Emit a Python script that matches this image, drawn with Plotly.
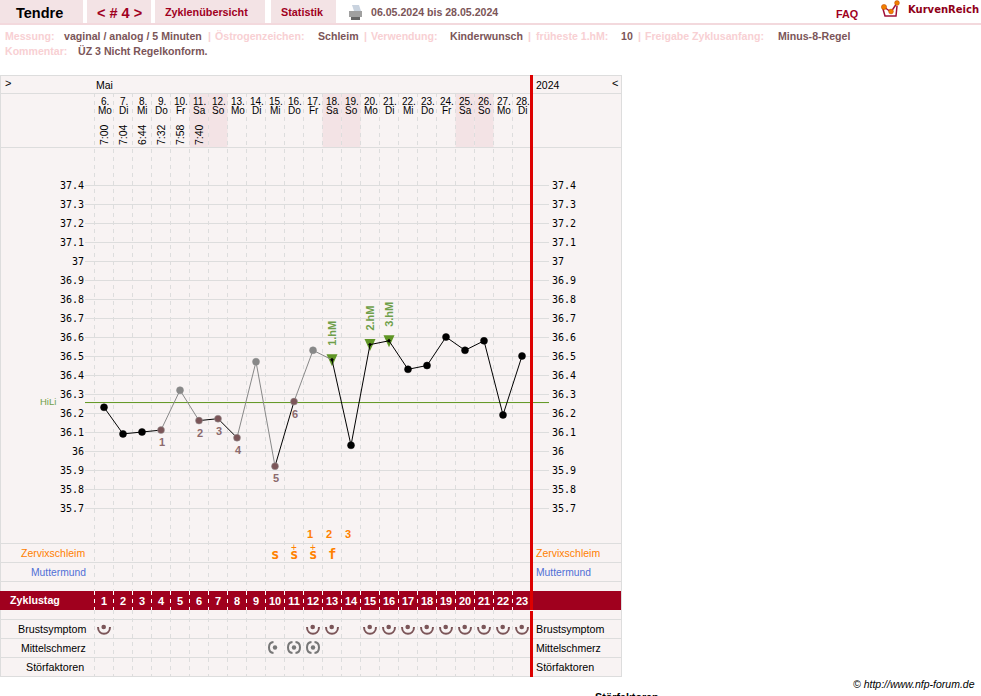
import plotly.graph_objects as go

# ---- data ----
cycle_days = list(range(1, 24))
dates = ["6.","7.","8.","9.","10.","11.","12.","13.","14.","15.","16.","17.","18.","19.","20.","21.","22.","23.","24.","25.","26.","27.","28."]
weekdays = ["Mo","Di","Mi","Do","Fr","Sa","So","Mo","Di","Mi","Do","Fr","Sa","So","Mo","Di","Mi","Do","Fr","Sa","So","Mo","Di"]
times = ["7:00","7:04","6:44","7:32","7:58","7:40"]
temps = [36.23,36.09,36.10,36.11,36.32,36.16,36.17,36.07,36.47,35.92,36.26,36.53,36.48,36.03,36.56,36.58,36.43,36.45,36.60,36.53,36.58,36.19,36.50]
point_kind = ["k","k","k","b","g","b","b","b","g","b","b","g","h","k","h","h","k","k","k","k","k","k","k"]
segment_kind = ["k","k","k","g","g","k","k","g","g","k","g","g","k","k","k","k","k","k","k","k","k","k"]
coverline_days = [4,6,7,8,10,11]
coverline_labels = ["1","2","3","4","5","6"]
hm_days = [13,15,16]
hm_labels = ["1.hM","2.hM","3.hM"]
hili = 36.255
weekend_days = [6,7,13,14,20,21]
temp_ticks = [37.4,37.3,37.2,37.1,37.0,36.9,36.8,36.7,36.6,36.5,36.4,36.3,36.2,36.1,36.0,35.9,35.8,35.7]
temp_ticktext = ["37.4","37.3","37.2","37.1","37","36.9","36.8","36.7","36.6","36.5","36.4","36.3","36.2","36.1","36","35.9","35.8","35.7"]
slime_days = [10,11,12,13]
slime_marks = ["s","s","s","f"]
slime_plus_days = [11,12]
peak_days = [12,13,14]
peak_labels = ["1","2","3"]
breast_days = [1,12,13,15,16,17,18,19,20,21,22,23]
pain_left_days = [10,11,12]
pain_right_days = [11,12]

# ---- colours ----
PINK = "#f3e3e5"; PANEL = "#f8f3f3"; LINE = "#dddddd"; CRIMSON = "#a0001e"; BROWN = "#7b5558"
LIGHT = "#f8d0d3"; ORANGE = "#ff8000"; BLUE = "#4f6fd6"; RED = "#dd0000"; GREEN = "#5f9520"
HM = "#5f9525"; HMTXT = "#6f9f4a"; GRAY = "#888888"; PAIN = "#777777"
SANS = "Liberation Sans"; MONO = "DejaVu Sans Mono"

# ---- pixel layout of the plot area ----
W, H = 981, 696
L, R, T, B = 85, 549, 148, 543
def px(x): return (x - L) / (R - L)
def py(y): return (B - y) / (B - T)
x_range = [0, (R - L) / 19]
y_range = [37.4 - (B - 185) / 190, 37.4 + (185 - T) / 190]

shapes, annos = [], []
def rect(x0, y0, x1, y1, c, layer="below"):
    shapes.append(dict(type="rect", xref="paper", yref="paper", x0=px(x0), x1=px(x1), y0=py(y0), y1=py(y1),
                       fillcolor=c, line_width=0, layer=layer))
def hline(y, c=LINE, x0=0, x1=622):
    rect(x0, y, x1, y + 1, c)
def text(x, y, s, size=10.6, color="black", bold=False, anchor="left", family=SANS, **kw):
    x = x - 1 if anchor == "left" else x + 1
    annos.append(dict(xref="paper", yref="paper", x=px(x), y=py(y), text=s, showarrow=False, xanchor=anchor,
                      yanchor="middle", borderpad=0, font=dict(family=family, size=size, color=color,
                      weight=700 if bold else 400, **kw)))
def poly(coords, fill=None, line=None, w=1.5, layer="above"):
    p = "M " + " L ".join(f"{px(a)} {py(b)}" for a, b in coords)
    d = dict(type="path", xref="paper", yref="paper", layer=layer)
    if fill:
        d.update(path=p + " Z", fillcolor=fill, line_width=0)
    else:
        d.update(path=p, line=dict(color=line, width=w))
    shapes.append(d)

# ---- page header ----
for a, b in [(0,83),(87,151),(155,265),(271,336)]:
    rect(a, 0, b, 23, PINK)
rect(0, 23, W, 25, "#f3d9dd")
text(16, 13, "Tendre", 14.5, "black", True)
text(97, 13, "&lt; # 4 &gt;", 14.5, CRIMSON, True)
text(165, 12, "Zyklenübersicht", 10.8, CRIMSON, True)
text(281, 12, "Statistik", 10.8, CRIMSON, True)
text(371, 12, "06.05.2024 bis 28.05.2024", 10.6, BROWN, True)
text(836, 14, "FAQ", 10.8, CRIMSON, True)
text(908, 10, "KurvenReich", 10, "#8f0018", True, family="DejaVu Sans")
# printer icon
poly([(352,5),(359,5),(361,11),(354,11)], fill="#c9d3df", layer="below")
poly([(349,11),(362,11),(362,17),(349,17)], fill="#a0a0a0", layer="below")
poly([(351,17),(360,17),(360,20),(351,20)], fill="#666666", layer="below")
# logo
poly([(883,9),(885,16),(896,16),(897,6)], line="#a0103a")
poly([(884,7),(891,12),(897,3)], line="#a0103a")
for cx, cy, r in [(884,7,2.6),(891,11.5,2.4),(897,3,2.4)]:
    shapes.append(dict(type="circle", xref="paper", yref="paper", x0=px(cx-r), x1=px(cx+r), y0=py(cy-r), y1=py(cy+r),
                       fillcolor="#f08000", line=dict(color="#c04000", width=0.5), layer="above"))

# ---- info lines ----
info1 = [(5,"Messung:",LIGHT),(64,"vaginal / analog / 5 Minuten",BROWN),(208,"|",LIGHT),(215,"Östrogenzeichen:",LIGHT),
         (318,"Schleim",BROWN),(364,"|",LIGHT),(371,"Verwendung:",LIGHT),(450,"Kinderwunsch",BROWN),(528,"|",LIGHT),
         (536,"früheste 1.hM:",LIGHT),(621,"10",BROWN),(638,"|",LIGHT),(645,"Freigabe Zyklusanfang:",LIGHT),(778,"Minus-8-Regel",BROWN)]
for x, s, c in info1:
    text(x, 36, s, 10.6, c, True)
text(5, 51, "Kommentar:", 10.6, LIGHT, True)
text(78, 51, "ÜZ 3 Nicht Regelkonform.", 10.6, BROWN, True)

# ---- panel ----
rect(0, 75, 622, 677, PANEL)
for d in weekend_days:
    shapes.append(dict(type="rect", xref="x", yref="paper", x0=d-0.5, x1=d+0.5, y0=py(93), y1=py(147),
                       fillcolor=PINK, line_width=0, layer="below"))
for y in [75,93,147,543,562,581,619,638,657,676]:
    hline(y)
rect(0, 75, 1, 677, LINE)
rect(621, 75, 622, 677, LINE)
rect(0, 591, 621, 610, CRIMSON)
for d in cycle_days:
    for y0, y1, c in [(93,591,LINE),(591,610,"white"),(610,677,LINE)]:
        shapes.append(dict(type="line", xref="x", yref="paper", x0=d-0.5, x1=d-0.5, y0=py(y0), y1=py(y1),
                           line=dict(color=c, width=1, dash="4px,4px"), layer="below"))
# red line (day column end)
rect(530, 75, 533, 610, RED, "above")
rect(530, 611, 533, 677, RED, "above")
# HiLi line
shapes.append(dict(type="line", xref="paper", yref="y", x0=0, x1=1, y0=hili, y1=hili,
                   line=dict(color=GREEN, width=1), layer="between"))
text(40, 401, "HiLi", 9.5, HMTXT)

# ---- header labels ----
text(5, 83, "&gt;", 11, "black")
text(612, 83, "&lt;", 11, "black")
text(96, 85, "Mai", 10.5, "black")
text(536, 85, "2024", 10.5, "black")
def dayanno(d, y, s, size=10, color="black", bold=False, textangle=0, family=SANS, xshift=0):
    annos.append(dict(xref="x", yref="paper", x=d, y=py(y), text=s, showarrow=False, xanchor="center", yanchor="middle",
                      textangle=textangle, borderpad=0, xshift=xshift,
                      font=dict(family=family, size=size, color=color, weight=700 if bold else 400)))
for d, a, b in zip(cycle_days, dates, weekdays):
    dayanno(d, 101, a, 10, xshift=0.5)
    dayanno(d, 111, b, 10, xshift=0.5)
for d, t in zip(cycle_days, times):
    dayanno(d, 135, t, 10.5, textangle=-90)

# ---- row labels ----
text(85, 553, "Zervixschleim", 10.5, ORANGE, anchor="right")
text(86, 572, "Muttermund", 10.3, BLUE, anchor="right")
text(10, 600, "Zyklustag", 10.7, "white", True)
text(86, 629, "Brustsymptom", 10.7, "black", anchor="right")
text(86, 648, "Mittelschmerz", 10.5, "black", anchor="right")
text(84, 667, "Störfaktoren", 10.7, "black", anchor="right")
text(536, 553, "Zervixschleim", 10.5, ORANGE)
text(536, 572, "Muttermund", 10.3, BLUE)
text(536, 629, "Brustsymptom", 10.7, "black")
text(536, 648, "Mittelschmerz", 10.5, "black")
text(536, 667, "Störfaktoren", 10.7, "black")
text(853, 684, "© http://www.nfp-forum.de", 10.5, "black", style="italic")
text(595, 697, "Störfaktoren", 10.7, "black", True)

# ---- symbol rows ----
for d, s in zip(slime_days, slime_marks):
    dayanno(d, 554, s, 14, ORANGE, True, family=MONO, xshift=-0.5)
for d in slime_plus_days:
    dayanno(d, 547, "+", 10, ORANGE, False)
for d, s in zip(peak_days, peak_labels):
    dayanno(d, 534, s, 11, ORANGE, True, xshift=-3)

def sym(d, y, path, c):
    shapes.append(dict(type="path", xref="x", yref="paper", xsizemode="pixel", ysizemode="pixel",
                       xanchor=d, yanchor=py(y), path=path, line=dict(color=c, width=2), layer="above"))
def dot(d, y, r, c, dx=0):
    shapes.append(dict(type="circle", xref="x", yref="paper", xsizemode="pixel", ysizemode="pixel",
                       xanchor=d, yanchor=py(y), x0=dx-r, x1=dx+r, y0=-r, y1=r, fillcolor=c, line_width=0, layer="above"))
for d in breast_days:
    sym(d, 629.5, "M -6 2.5 C -6 -6.5 6 -6.5 6 2.5", BROWN)
    dot(d, 627, 2.3, BROWN, -0.3)
for d in pain_left_days:
    sym(d, 647.5, "M -1.5 5.5 C -7.5 5 -7.5 -5 -1.5 -5.5", PAIN)
    dot(d, 647.5, 2.2, PAIN, 0)
for d in pain_right_days:
    sym(d, 647.5, "M 1.5 5.5 C 7.5 5 7.5 -5 1.5 -5.5", PAIN)

fig = go.Figure()

# hidden trace that carries the right-hand temperature axis
fig.add_trace(go.Scatter(x=cycle_days, y=temps, mode="markers", marker=dict(opacity=0), yaxis="y2",
                         hoverinfo="skip", showlegend=False))

def pick(kind):
    idx = [i for i, k in enumerate(point_kind) if k == kind]
    return [cycle_days[i] for i in idx], [temps[i] for i in idx]

# intercourse triangles, above the grid and beneath the curve, expressed in axis units
hx, hy = pick("h")
for x_, y_ in zip(hx, hy):
    a, b, c = 5.5 / 19, 5.5 / 190, 6.5 / 190
    shapes.append(dict(type="path", xref="x", yref="y", layer="between", fillcolor=HM, line_width=0,
                       path=f"M {x_-a} {y_+b} L {x_+a} {y_+b} L {x_} {y_-c} Z"))

# temperature curve segments
for kind, colour in [("g", GRAY), ("k", "black")]:
    xs, ys = [], []
    for i, k in enumerate(segment_kind):
        if k == kind:
            xs += [cycle_days[i], cycle_days[i+1], None]
            ys += [temps[i], temps[i+1], None]
    fig.add_trace(go.Scatter(x=xs, y=ys, mode="lines", line=dict(color=colour, width=1), hoverinfo="skip", showlegend=False))

fig.add_trace(go.Scatter(x=hx, y=hy, mode="markers", marker=dict(symbol="diamond", size=3, color="black", line_width=0),
                         showlegend=False))
for kind, colour, edge in [("k","black","black"),("g",GRAY,GRAY),("b",BROWN,"#999999")]:
    kx, ky = pick(kind)
    fig.add_trace(go.Scatter(x=kx, y=ky, mode="markers", marker=dict(size=7, color=colour, line=dict(color=edge, width=0.5)),
                             showlegend=False))

# labels tied to the temperature points
for d, s in zip(coverline_days, coverline_labels):
    annos.append(dict(xref="x", yref="y", x=d, y=temps[d-1], text=s, showarrow=False, yshift=-12, borderpad=0, xshift=1,
                      font=dict(family=SANS, size=11, color="#8b6a6d", weight=700)))
for d, s in zip(hm_days, hm_labels):
    annos.append(dict(xref="x", yref="y", x=d, y=temps[d-1], text=s, showarrow=False, yshift=26, textangle=-90, borderpad=0,
                      font=dict(family=SANS, size=11, color=HMTXT, weight=700)))

fig.update_layout(
    width=W, height=H, margin=dict(l=L, r=W-R, t=T, b=H-B, pad=0, autoexpand=False),
    paper_bgcolor="white", plot_bgcolor="rgba(0,0,0,0)", showlegend=False, hovermode=False,
    shapes=shapes, annotations=annos,
    xaxis=dict(range=x_range, tickmode="array", tickvals=cycle_days, ticktext=[str(d) for d in cycle_days],
               ticks="outside", ticklen=48, tickcolor="rgba(0,0,0,0)", showgrid=False, zeroline=False, showline=False,
               tickangle=0, tickfont=dict(family=SANS, size=11, color="white", weight=700)),
    yaxis=dict(range=y_range, tickmode="array", tickvals=temp_ticks, ticktext=temp_ticktext, showgrid=True,
               gridcolor=LINE, gridwidth=1, zeroline=False, showline=False, ticks="",
               tickfont=dict(family=MONO, size=10, color="black")),
    yaxis2=dict(range=y_range, overlaying="y", side="right", anchor="free", position=1, tickmode="array",
                tickvals=temp_ticks, ticktext=temp_ticktext, showgrid=False, zeroline=False, showline=False,
                ticks="", ticklabelstandoff=2, tickfont=dict(family=MONO, size=10, color="black")),
)
fig.write_html("out.html", post_script="document.body.style.margin='0';document.body.style.overflow='hidden';",
               config=dict(displayModeBar=False))
